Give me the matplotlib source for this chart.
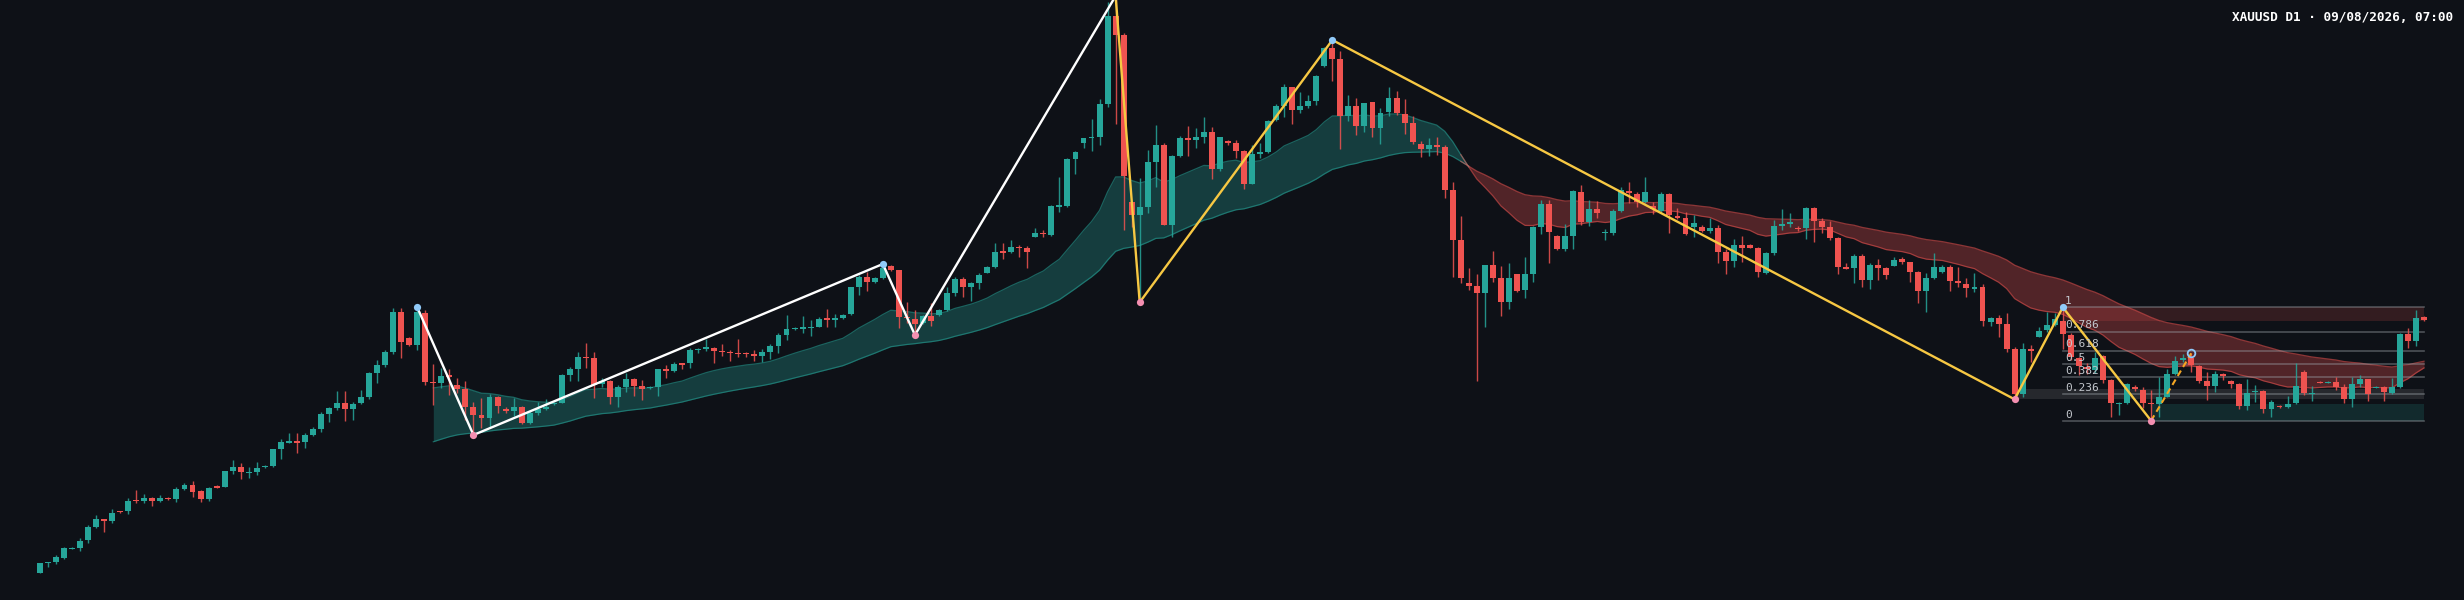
import matplotlib
matplotlib.use('Agg')
import matplotlib.pyplot as plt
import numpy as np
import pandas as pd


# daily candles, oldest first (price units)
opens = [
    27.3, 37, 38, 42.3, 51.5, 51.7, 60, 72.7, 80.7, 78.7,
    88.7, 88.7, 100, 99.3, 102.3, 99, 102, 100.7, 110.7, 115,
    108.7, 101, 113.7, 113, 129, 133, 127, 127.7, 133, 134,
    151, 157.3, 158.7, 158.3, 165, 170.7, 186, 192.3, 196.7, 191.3,
    197.3, 202.7, 226.7, 235, 247.7, 288, 262, 255, 286.7, 218,
    216.7, 225, 215, 210.7, 193.3, 185, 181.7, 203.3, 191.3, 189,
    193.3, 177.3, 187.3, 191, 195.7, 197.3, 225, 230.7, 243, 241.7,
    215.7, 219, 203.3, 213.3, 221, 214.3, 212, 213.3, 231.3, 228.7,
    236.7, 236.7, 250.3, 251, 252.3, 249, 248.3, 247.3, 247.3, 246,
    244, 248.3, 254, 265, 271, 271.3, 272.3, 273.3, 281.7, 280.3,
    281.7, 285.7, 312.7, 323.3, 318.3, 321.7, 334.3, 330, 283.3, 281,
    277.3, 284, 285, 290, 307.3, 320.7, 313.3, 316.7, 327.3, 333.3,
    349, 348, 353.3, 351.7, 363.3, 367.3, 365, 393.3, 394.3, 441,
    456.7, 462.3, 463.3, 496, 584, 565, 398.3, 385, 393.3, 437.7,
    455, 375, 444, 461.7, 460, 462.7, 467.7, 431, 459, 456.7,
    449, 415.7, 446, 448.3, 480, 494, 512.7, 490, 494, 499.3,
    534, 551.7, 540.7, 484.3, 494, 474.3, 497.7, 471.7, 488.3, 502.3,
    486, 476.7, 456, 451.3, 455, 452.7, 410, 360, 316.7, 314,
    307.3, 335, 322.3, 298.3, 325.7, 310, 326, 373.3, 396, 364.3,
    351, 364, 408.3, 378.3, 390.7, 366.7, 367.3, 389, 409.3, 406,
    397.7, 394, 389, 405.7, 384, 381.7, 373.3, 373.3, 369.3, 372.3,
    347.7, 339, 355, 355, 351.7, 327.3, 347.3, 374, 375.7, 372.3,
    372.3, 391.7, 379, 373.3, 362.3, 333.3, 332.3, 344, 320, 335,
    332.3, 334.3, 340.7, 338.3, 328.3, 309.3, 321.7, 328.3, 333.3, 319,
    316, 311.3, 312.7, 278.3, 282.3, 276, 251, 206, 250.7, 263.3,
    270, 275, 279.3, 265, 241.7, 233.3, 230, 244, 220, 196,
    197.3, 213.3, 210, 197.3, 196, 203.3, 226, 240, 241.7, 234,
    219.3, 214, 225.7, 219.3, 215.7, 194, 208, 209, 190.7, 194,
    193.3, 196.7, 228.3, 206, 218.3, 217.3, 218.3, 213.3, 200.7, 216,
    221, 212.3, 213.3, 207.3, 212.7, 265.7, 259.3, 283.3,
]
highs = [
    37, 38.5, 45, 53.3, 53.3, 62.3, 75, 85, 80.7, 90.7,
    89.3, 102.3, 110, 105.7, 103.3, 105, 102.7, 113.3, 117.3, 118.7,
    110, 113.3, 114.7, 129, 140, 137.3, 132.7, 138, 135, 151.3,
    161, 166.7, 167.3, 166.7, 173.3, 188, 193.3, 209, 209, 198.3,
    210, 228.3, 240, 250, 291.7, 291.7, 263.3, 292.7, 290, 235.7,
    232.3, 230.7, 221.7, 219, 198.3, 201.7, 205.7, 204.3, 193.3, 201.7,
    194, 190, 198.3, 200.7, 198, 225.7, 232.7, 248.3, 256.7, 248.3,
    221.7, 220, 215, 227.3, 222.3, 220, 214, 230.7, 234.7, 238.3,
    236.7, 252, 252, 260.7, 253.3, 255.7, 250, 260.7, 248.3, 250,
    250.7, 256, 267.3, 285, 273, 284, 280, 283.3, 290.7, 286,
    286, 313.3, 325, 328.3, 323, 336, 335, 330, 298.3, 290,
    285, 297.3, 290.7, 312.7, 322.7, 323.3, 318.3, 327.3, 334, 356.7,
    357.3, 360, 355, 354, 371.7, 370, 395, 423.3, 441.7, 449,
    462.3, 480.7, 501, 598.3, 604, 567.3, 398.3, 421.7, 450, 475,
    456.7, 445, 464, 474, 471.7, 482.7, 473.3, 463.3, 460, 460,
    450, 455, 457.3, 480, 496, 516, 513.3, 508.3, 505, 524.7,
    552.7, 560, 549.3, 505, 501.7, 497.3, 498.3, 491.7, 513.3, 509.3,
    501, 484.3, 459, 461.7, 462.7, 455, 417.7, 384, 331.7, 326,
    335, 349.3, 334, 336.7, 325.7, 343.3, 374, 400, 400, 365,
    376, 410, 415, 400, 399.3, 370.7, 390.7, 413.3, 418.3, 408.3,
    423.3, 398.3, 408.3, 407.3, 392.3, 387.7, 385, 375, 381.7, 375,
    351, 360.7, 364, 356, 353.3, 348.3, 380, 390.7, 387.3, 374.3,
    392.7, 393.3, 381.7, 379.3, 363.3, 336.7, 346, 346, 336.7, 340.7,
    332.7, 343.3, 343.3, 338.3, 329.3, 326.7, 347.3, 335, 335, 333.3,
    321.7, 326.7, 316, 283.3, 285, 287.3, 253.3, 257.3, 255, 273.3,
    288.3, 286.7, 292.7, 266.7, 243.3, 236.7, 248.3, 245, 220.7, 198.3,
    217.3, 215, 213.3, 210, 223.3, 230.7, 244, 246, 246.7, 235,
    228.3, 229.3, 227.3, 220, 216.7, 220.7, 215, 210, 200, 195,
    204, 236.7, 230, 214, 219.3, 219, 223.3, 216, 223.3, 225,
    221, 213.7, 214, 221.7, 267.3, 272.3, 290, 284,
]
lows = [
    26.7, 33, 35.7, 40.7, 50.7, 49, 57.3, 71.7, 68.3, 76.7,
    87.3, 85.7, 97.3, 96.7, 94.3, 98.3, 100, 97.7, 110, 102.7,
    97.7, 99, 112, 112.7, 126, 121, 122.3, 125, 132.3, 133.3,
    140.7, 156.7, 147.3, 152.3, 164, 168, 178.3, 190, 179.3, 180,
    196, 200.7, 217.3, 233.3, 246, 241.7, 254.3, 250, 215, 195,
    211.7, 205, 206.7, 180, 165, 172.3, 173.3, 186.7, 187.3, 184.3,
    175.7, 175.7, 185, 190, 195, 196.7, 219.3, 219.3, 231.7, 202.3,
    212.7, 195.7, 193.3, 208.3, 204, 200, 211.3, 204.3, 222.3, 227.7,
    230.7, 232.3, 247.3, 249.3, 236.7, 244, 239.3, 243.3, 243.3, 239.3,
    237.7, 240.7, 246.7, 260, 270, 266.7, 264, 272.7, 273.3, 273.3,
    281, 285, 305, 309.3, 317, 321, 329.3, 271.7, 276.7, 265,
    276, 274, 284.3, 289, 304.3, 303.3, 299.3, 310.7, 326.7, 332.3,
    340.7, 347.3, 343.3, 332.3, 362.7, 362.7, 364, 388.3, 392.7, 426,
    452.3, 449.3, 455, 492.7, 476, 370, 373.3, 297.7, 386.7, 413.3,
    375, 362.7, 443.3, 444, 451.7, 456.7, 420.7, 429.3, 455, 442.3,
    411, 415.7, 441.7, 447.3, 479.3, 483.3, 476, 486.7, 492, 495,
    533.3, 519.3, 450.7, 479.3, 465, 468.3, 463.3, 455.7, 484, 485,
    466, 456, 443.3, 444, 445, 401.7, 323.3, 317.3, 310, 219.3,
    272.7, 317.7, 284.3, 290.7, 308.3, 301.7, 318.3, 366, 336.7, 350,
    349, 350.7, 375, 374, 382.3, 360, 365, 387.7, 396.7, 393.3,
    396.7, 385.7, 388.3, 366.7, 380.7, 365, 363.3, 368.3, 366.7, 336.7,
    325.7, 333.3, 338.3, 351.7, 323.3, 326, 345, 370, 373.3, 369,
    361, 358.3, 366.7, 360, 325.7, 330.7, 317.3, 313.3, 310.7, 320,
    320.7, 334, 335.7, 318.3, 297.3, 288.3, 320.7, 327.3, 309.3, 313.3,
    303.3, 308.3, 274.3, 274, 263.3, 248.3, 200.7, 203.3, 238.3, 262.7,
    268.3, 274, 250.7, 240, 225, 226, 226.7, 216.7, 183.3, 185,
    196, 209.3, 191.7, 179.3, 183.3, 202.7, 225, 238.3, 228.3, 217.3,
    200, 208.3, 220, 211.7, 190.7, 190, 198.3, 186.7, 183.3, 191.7,
    191.7, 196, 205, 199.3, 216.7, 216.7, 210, 197.3, 193.3, 213.3,
    199.3, 211.7, 199.3, 206, 211.7, 251.7, 254, 279.3,
]
closes = [
    36.7, 38.3, 43.3, 51.7, 52.3, 59.3, 72.7, 80.7, 79.3, 87.3,
    87.7, 99.3, 98.7, 102.3, 99, 102, 100.7, 110.7, 115, 108.3,
    101, 112.3, 112.3, 128.7, 133, 127.7, 128, 132.3, 134.3, 150.7,
    158.3, 158.7, 157.3, 165, 170.7, 186, 192.3, 196.7, 191.3, 196,
    202.7, 226.7, 235, 247.7, 288, 258.3, 255, 287.7, 218.3, 216.7,
    224.3, 223.3, 210.7, 193.3, 185, 182.3, 203.3, 194.3, 189, 193,
    177.3, 187.3, 190.7, 193.3, 197.3, 224.7, 230.7, 243, 241.7, 215,
    219, 203.3, 213.3, 220.7, 214, 211, 213.3, 230.7, 228.7, 236,
    235, 250, 251.3, 252.7, 249.3, 247.7, 246.7, 245.7, 246, 244,
    248.3, 254, 265, 271.3, 272.3, 272.7, 273.3, 281, 280, 281.7,
    285, 312.7, 323.3, 318.3, 321.7, 331.7, 330, 283.3, 281.7, 276,
    284, 279.3, 290, 307.3, 321, 313.3, 316.7, 325, 333.3, 348.3,
    347.3, 352.7, 351.7, 348, 367.3, 365.7, 394, 394.7, 441, 448.3,
    461.7, 463.3, 496, 584, 565, 424, 385, 393.3, 437.7, 455,
    375, 444, 461.7, 460.3, 462.7, 467.7, 431, 462.7, 456.7, 449.3,
    415.7, 446, 448.3, 479.3, 494, 512.7, 490, 494, 499.3, 524,
    551.7, 540.7, 484.3, 494, 474.3, 496.7, 471.7, 487.3, 502.3, 486.7,
    477.3, 457.7, 451.3, 455, 452.7, 410, 360, 322.3, 314, 307.3,
    335, 322.3, 298.3, 321.7, 309, 326, 373.3, 396, 368.3, 351,
    364, 409, 378.3, 390.7, 387.3, 367.7, 389, 410, 406.7, 397.7,
    408.3, 390.7, 405.7, 385, 381.7, 365.7, 376.7, 369.3, 372.3, 347.7,
    339, 355, 352.3, 352.3, 327.7, 346.7, 374, 375.7, 378.3, 370.7,
    391.7, 379, 373.3, 361.7, 333.3, 331, 344, 320, 335, 332.3,
    325, 340, 338.3, 328.3, 309.3, 321.7, 333.3, 333.3, 319.3, 316.7,
    311.7, 312.7, 279, 282.3, 276, 251, 206, 250.7, 249.3, 269.3,
    275, 280.7, 266, 242.7, 234, 230.7, 241.7, 220, 197.3, 197.3,
    216, 210.7, 197.3, 195.7, 202.7, 226, 239, 241.7, 235, 219.3,
    214, 225.7, 224, 215.7, 194, 207.3, 209, 190.7, 198, 192.7,
    196, 214, 206.7, 207.3, 217.3, 218.3, 213.3, 200.7, 215.7, 221,
    205.7, 213.3, 208.3, 212.7, 266, 259.3, 282.3, 280,
]

# zigzag swing points (bar index, 'H' = swing high, 'L' = swing low)
pivot_bars = [47, 54, 105, 109, 134, 137, 161, 246, 252, 263]
pivot_kinds = ['H', 'L', 'H', 'L', 'H', 'L', 'H', 'L', 'H', 'L']
old_leg_count = 5          # first legs drawn white, the rest yellow
pending_bar = 268          # unconfirmed swing high (hollow marker)

# supply / demand boxes: start bar, bottom, top, colour
zone_starts = [252, 246, 263]
zone_bottoms = [279.3, 200.7, 179.3]
zone_tops = [292.7, 210.7, 195.7]
zone_colors = ['#ef5350', '#9e9e9e', '#26a69a']

fib_ratios = [0, 0.236, 0.382, 0.5, 0.618, 0.786, 1]
fib_labels = ['0', '0.236', '0.382', '0.5', '0.618', '0.786', '1']

title_text = 'XAUUSD D1 \u00b7 09/08/2026, 07:00'

BG = '#0e1117'
UP = '#26a69a'
DOWN = '#ef5350'
BAND_START = 49


def pivot_price(bar, kind):
    ''' swing highs sit on the high of the bar, swing lows on the low '''
    return highs[bar] if kind == 'H' else lows[bar]


def draw_band(ax, x):
    ''' EMA 20 / EMA 50 ribbon, teal while the fast one is on top, red otherwise '''
    close_series = pd.Series(closes)
    fast = close_series.ewm(span=20, adjust=False).mean().values
    slow = close_series.ewm(span=50, adjust=False).mean().values

    xs = x[BAND_START:]
    fast = fast[BAND_START:]
    slow = slow[BAND_START:]
    bull = fast >= slow

    ax.fill_between(xs, fast, slow, where=bull, interpolate=True,
                    color=UP, alpha=0.3, lw=0, zorder=1)
    ax.fill_between(xs, fast, slow, where=~bull, interpolate=True,
                    color=DOWN, alpha=0.3, lw=0, zorder=1)

    # edges, each regime widened by one bar so the lines join at the cross
    for mask, colour in ((bull, UP), (~bull, DOWN)):
        wide = mask.copy()
        wide[1:] |= mask[:-1]
        wide[:-1] |= mask[1:]
        for line in (fast, slow):
            ax.plot(xs, np.where(wide, line, np.nan), color=colour,
                    lw=0.9, alpha=0.55, zorder=1.5)


def draw_zones(ax, last_bar):
    for start, bottom, top, colour in zip(zone_starts, zone_bottoms, zone_tops, zone_colors):
        ax.fill_between([start, last_bar], bottom, top, color=colour,
                        alpha=0.17, lw=0, zorder=2)


def draw_fib(ax, last_bar):
    ''' retracement between the last swing high and the swing low after it '''
    high = pivot_price(pivot_bars[-2], pivot_kinds[-2])
    low = pivot_price(pivot_bars[-1], pivot_kinds[-1])
    start = pivot_bars[-2]
    for ratio, label in zip(fib_ratios, fib_labels):
        level = low + ratio * (high - low)
        ax.plot([start, last_bar], [level, level], color='#9aa0a6',
                lw=1.2, alpha=0.45, zorder=2.5)
        ax.text(start + 0.25, level + 1.2, label, color='#c3c7cd',
                fontsize=8, family='DejaVu Sans Mono', ha='left',
                va='bottom', zorder=6)


def draw_candles(ax, x):
    o = np.array(opens)
    h = np.array(highs)
    l = np.array(lows)
    c = np.array(closes)
    colours = np.where(c >= o, UP, DOWN)

    ax.vlines(x, l, h, colors=colours, lw=1.0, alpha=0.85, zorder=3)
    bottom = np.minimum(o, c)
    height = np.maximum(np.abs(c - o), 1.0)
    ax.bar(x, height, bottom=bottom, width=0.74, color=colours,
           linewidth=0, zorder=4)


def draw_zigzag(ax):
    prices = [pivot_price(b, k) for b, k in zip(pivot_bars, pivot_kinds)]

    old = slice(0, old_leg_count)
    new = slice(old_leg_count - 1, None)
    ax.plot(pivot_bars[old], prices[old], color='white', lw=1.7, zorder=5)
    ax.plot(pivot_bars[new], prices[new], color='#f7c843', lw=1.7, zorder=5)

    # leg still forming
    ax.plot([pivot_bars[-1], pending_bar], [prices[-1], highs[pending_bar]],
            color='#f5a623', lw=1.5, ls=(0, (3, 2)), zorder=5)

    for bar, kind, price in zip(pivot_bars, pivot_kinds, prices):
        colour = '#90caf9' if kind == 'H' else '#f48fb1'
        ax.plot(bar, price, 'o', ms=5.2, color=colour, mec='none', zorder=6)
    ax.plot(pending_bar, highs[pending_bar], 'o', ms=5.5, mfc='none',
            mec='#90caf9', mew=1.3, zorder=6)


def plot_chart():
    assert len(opens) == len(highs) == len(lows) == len(closes)
    x = np.arange(len(closes))
    last_bar = x[-1]

    fig = plt.figure(figsize=(24.64, 6), dpi=100, facecolor=BG)
    ax = fig.add_axes([0, 0, 1, 1])
    ax.set_facecolor(BG)

    # one bar every ~8 px, first bar 40 px from the left edge
    step = 2384 / last_bar
    ax.set_xlim(-40 / step, (2464 - 40) / step)
    ax.set_ylim(0, 600)
    ax.axis('off')

    draw_band(ax, x)
    draw_zones(ax, last_bar)
    draw_fib(ax, last_bar)
    draw_candles(ax, x)
    draw_zigzag(ax)

    fig.text(0.9955, 1 - 17.5 / 600, title_text, color='white', fontsize=9.2,
             fontweight='bold', family='DejaVu Sans Mono', ha='right', va='center')

    fig.savefig('out.png', dpi=100, facecolor=BG)


if __name__ == '__main__':
    plot_chart()
